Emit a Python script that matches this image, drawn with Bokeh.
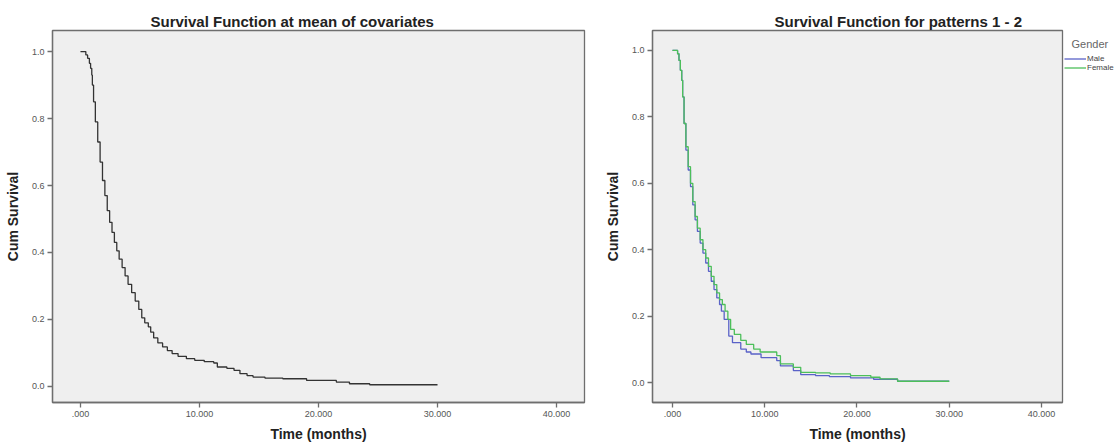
from bokeh.plotting import figure
from bokeh.layouts import row
from bokeh.models import Range1d, FixedTicker, Legend, LegendItem, Label
from bokeh.embed import file_html
from bokeh.resources import INLINE

# ---------------- data ----------------
x_ticks = [0, 10, 20, 30, 40]
x_tick_labels = [".000", "10.000", "20.000", "30.000", "40.000"]
y_ticks = [0.0, 0.2, 0.4, 0.6, 0.8, 1.0]
y_tick_labels = ["0.0", "0.2", "0.4", "0.6", "0.8", "1.0"]

mean_t = [0, 0.45, 0.6, 0.75, 0.85, 0.95, 1.0, 1.1, 1.25, 1.45, 1.65, 1.85, 2.05, 2.25,
          2.45, 2.65, 2.85, 3.05, 3.25, 3.5, 3.75, 4.0, 4.3, 4.6, 4.9, 5.15, 5.4, 5.7,
          5.9, 6.15, 6.5, 6.9, 7.3, 7.7, 8.2, 8.9, 9.6, 10.4, 11.2, 11.5, 12.3, 12.9,
          13.4, 14.0, 14.5, 15.5, 17.0, 19.0, 21.5, 22.6, 24.3, 30.0]
mean_s = [1.0, 0.99, 0.98, 0.965, 0.95, 0.93, 0.90, 0.85, 0.79, 0.73, 0.67, 0.615, 0.57,
          0.525, 0.49, 0.46, 0.43, 0.405, 0.38, 0.355, 0.33, 0.305, 0.28, 0.255, 0.23,
          0.205, 0.19, 0.178, 0.162, 0.145, 0.13, 0.118, 0.107, 0.098, 0.09, 0.083,
          0.078, 0.074, 0.07, 0.058, 0.054, 0.048, 0.038, 0.032, 0.028, 0.025, 0.023,
          0.018, 0.013, 0.008, 0.005, 0.005]

male_t = [0, 0.55, 0.7, 0.85, 1.0, 1.1, 1.25, 1.45, 1.7, 1.95, 2.2, 2.45, 2.7, 3.0, 3.3,
          3.6, 3.9, 4.2, 4.5, 4.8, 5.1, 5.3, 5.6, 6.1, 6.5, 7.4, 8.0, 8.5, 9.6, 11.3,
          11.7, 13.1, 13.9, 15.5, 17.0, 19.3, 21.8, 24.4, 30.0]
male_s = [1.0, 0.99, 0.97, 0.94, 0.91, 0.86, 0.78, 0.70, 0.64, 0.59, 0.535, 0.49, 0.455,
          0.42, 0.39, 0.36, 0.335, 0.305, 0.28, 0.255, 0.235, 0.215, 0.19, 0.14, 0.12,
          0.101, 0.092, 0.086, 0.075, 0.066, 0.05, 0.036, 0.024, 0.021, 0.018, 0.014,
          0.01, 0.004, 0.004]

female_t = [0, 0.55, 0.7, 0.85, 1.0, 1.1, 1.25, 1.45, 1.7, 1.95, 2.2, 2.45, 2.7, 3.0, 3.3,
            3.6, 3.9, 4.2, 4.5, 4.8, 5.1, 5.4, 5.7, 6.0, 6.3, 6.7, 7.4, 8.0, 8.8, 9.5,
            11.3, 11.7, 13.1, 13.9, 15.5, 17.1, 19.3, 21.5, 22.5, 24.4, 30.0]
female_s = [1.0, 0.99, 0.97, 0.94, 0.91, 0.86, 0.78, 0.71, 0.65, 0.60, 0.545, 0.50, 0.465,
            0.43, 0.40, 0.375, 0.35, 0.32, 0.295, 0.27, 0.25, 0.235, 0.215, 0.19, 0.16,
            0.145, 0.127, 0.115, 0.101, 0.092, 0.081, 0.056, 0.046, 0.031, 0.029, 0.026,
            0.021, 0.016, 0.011, 0.004, 0.004]

series_names = ["Male", "Female"]
series_colors = ["#5a62c8", "#4cbf5a"]
series_t = [male_t, female_t]
series_s = [male_s, female_s]

FONT = "Liberation Sans"
FRAME = "#6e6e6e"
H = 445


def style(p, title, offset):
    p.title.text = title
    p.title.text_font = FONT
    p.title.text_font_size = "15px"
    p.title.text_font_style = "bold"
    p.title.text_color = "#222222"
    p.title.align = "left"
    p.title.offset = offset
    p.title.standoff = 2
    p.background_fill_color = "#efefef"
    p.border_fill_color = "white"
    p.outline_line_color = FRAME
    p.outline_line_width = 1.3
    p.grid.visible = False
    p.xaxis.ticker = FixedTicker(ticks=x_ticks)
    p.xaxis.major_label_overrides = dict(zip(x_ticks, x_tick_labels))
    p.yaxis.ticker = FixedTicker(ticks=y_ticks)
    p.yaxis.major_label_overrides = dict(zip(y_ticks, y_tick_labels))
    p.xaxis.axis_label = "Time (months)"
    p.yaxis.axis_label = "Cum Survival"
    for ax in (p.xaxis[0], p.yaxis[0]):
        ax.axis_line_color = FRAME
        ax.axis_line_width = 1.3
        ax.major_tick_line_color = FRAME
        ax.major_tick_line_width = 1.3
        ax.major_tick_out = 5
        ax.major_tick_in = 0
        ax.minor_tick_line_color = None
        ax.major_label_text_font = FONT
        ax.major_label_text_font_size = "9px"
        ax.major_label_text_color = "#555555"
        ax.major_label_standoff = 3
        ax.axis_label_text_font = FONT
        ax.axis_label_text_font_size = "14px"
        ax.axis_label_text_font_style = "bold"
        ax.axis_label_text_color = "#222222"
        ax.axis_label_standoff = 6
    p.yaxis[0].axis_label_standoff = 8


# ---------------- left plot ----------------
p1 = figure(width=600, height=H, output_backend="svg", toolbar_location=None,
            x_range=Range1d(-2.35, 42.35), y_range=Range1d(-0.048, 1.063),
            min_border_left=52, min_border_right=16, min_border_top=30,
            min_border_bottom=43)
style(p1, "Survival Function at mean of covariates", 98)
p1.step(mean_t, mean_s, mode="after", line_color="#333333", line_width=1.3)

# ---------------- right plot ----------------
p2 = figure(width=464, height=H, output_backend="svg", toolbar_location=None,
            x_range=Range1d(-2.17, 42.28), y_range=Range1d(-0.060, 1.060),
            min_border_left=52, min_border_right=2, min_border_top=30,
            min_border_bottom=43)
style(p2, "Survival Function for patterns 1 - 2", 122)
for t, s, col in zip(series_t, series_s, series_colors):
    p2.step(t, s, mode="after", line_color=col, line_width=1.3)

# ---------------- legend panel ----------------
# same series, but with a view range that keeps them out of sight; only the
# legend entries are visible in this narrow panel
p3 = figure(width=56, height=H, output_backend="svg", toolbar_location=None,
            x_range=Range1d(-200, -199), y_range=Range1d(-200, -199),
            min_border_left=0, min_border_right=0, min_border_top=30,
            min_border_bottom=43)
p3.axis.visible = False
p3.grid.visible = False
p3.outline_line_color = None
p3.background_fill_color = "white"
items = []
for name, t, s, col in zip(series_names, series_t, series_s, series_colors):
    r = p3.step(t, s, mode="after", line_color=col, line_width=1.3)
    items.append(LegendItem(label=name, renderers=[r]))
legend = Legend(items=items, location=(0, 330), orientation="vertical")
legend.border_line_color = None
legend.background_fill_alpha = 0
legend.padding = 0
legend.margin = 0
legend.spacing = 0
legend.glyph_width = 22
legend.glyph_height = 7
legend.label_height = 7
legend.label_standoff = 1
legend.label_text_font = FONT
legend.label_text_font_size = "8px"
legend.label_text_color = "#444444"
p3.add_layout(legend, "center")
p3.add_layout(Label(x=7, y=359, x_units="screen", y_units="screen", text="Gender",
                    text_font=FONT, text_font_size="11px", text_color="#666666",
                    text_baseline="middle"))

layout = row(p1, p2, p3)
open("out.html", "w").write(file_html(layout, INLINE))
